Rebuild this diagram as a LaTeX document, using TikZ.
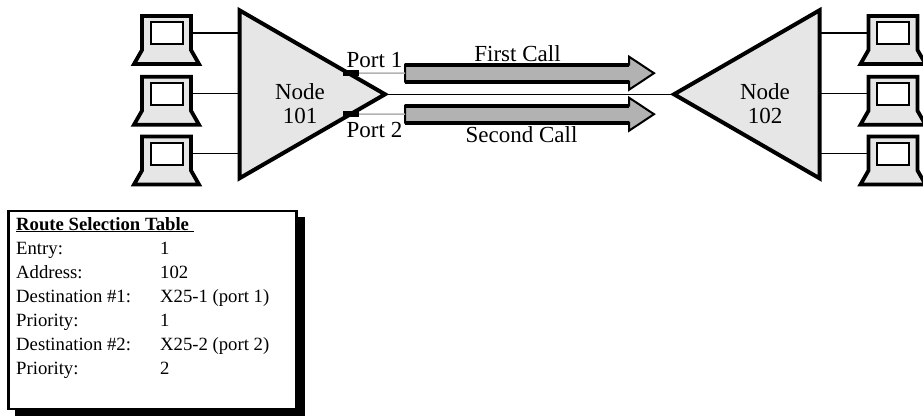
\documentclass[tikz,border=0pt]{standalone}
\usepackage{fontspec}
\setmainfont{Liberation Serif}
\usetikzlibrary{shapes.geometric}
\usetikzlibrary{shapes.arrows}
\usetikzlibrary{positioning}
\definecolor{nodegrey}{HTML}{E6E6E6}
\definecolor{callgrey}{HTML}{B2B2B2}
\tikzset{
	lapbody/.style={inner sep=0pt, outer sep=0pt, minimum width=49pt, minimum height=34pt},
	lapcase/.style={draw=black, fill=nodegrey, line width=3.8pt, line join=miter},
	lapscreen/.style={draw=black, fill=white, line width=2pt, inner sep=0pt, outer sep=0pt, minimum width=32pt, minimum height=22pt},
	wire/.style={draw=black, line width=1.5pt},
	switch/.style={isosceles triangle, isosceles triangle stretches, draw=black, fill=nodegrey, line width=4pt, inner sep=0pt, outer sep=0pt, minimum width=168pt, minimum height=145.5pt},
	port/.style={fill=black, inner sep=0pt, outer sep=0pt, minimum width=16pt, minimum height=5.5pt},
	call/.style={single arrow, single arrow head extend=8pt, single arrow tip angle=67, draw=black, fill=callgrey, line width=2pt, inner sep=0pt, outer sep=0pt, text height=15pt, minimum height=249pt, anchor=tail},
	callside/.style={draw=black, line width=4pt},
	label/.style={inner sep=0pt, anchor=base, font=\fontsize{23}{24}\selectfont},
	cell/.style={inner sep=0pt, anchor=base west, font=\fontsize{18.7}{24}\selectfont}
}
\begin{document}
\begin{tikzpicture}[x=1pt, y=-1pt]
	\useasboundingbox (0,0) rectangle (923,415);
	% end switches
	\node[switch, anchor=apex] (n101) at (385,94.3) {};
	\node[switch, anchor=apex, shape border rotate=180] (n102) at (674,94.3) {};
	\node[label] (t101) at (300,99) {Node};
	\node[label] (t101b) at (300,123) {101};
	\node[label] (t102) at (765,99) {Node};
	\node[label] (t102b) at (765,123) {102};
	\draw[wire] (n101.apex) -- (n102.apex);
	% terminals on both sides
	\foreach \n/\y in {1/33,2/93.7,3/153.5}{
		\node[lapbody] (a\n) at (166.5,\y) {};
		\node[lapbody] (b\n) at (893,\y) {};
		\draw[lapcase] (a\n.north west) -- (a\n.north east) -- (a\n.south east) -- ++(8,14) -- ++(-65,0) -- (a\n.south west) -- cycle;
		\draw[lapcase] (b\n.north west) -- (b\n.north east) -- (b\n.south east) -- ++(8,14) -- ++(-65,0) -- (b\n.south west) -- cycle;
		\node[lapscreen] (as\n) at (a\n) {};
		\node[lapscreen] (bs\n) at (b\n) {};
		\draw[wire] (a\n.east) -- (a\n.east -| n101.lower side);
		\draw[wire] (b\n.west) -- (b\n.west -| n102.lower side);
	}
	% the two calls
	\node[call] (c1) at (405,73.2) {};
	\node[call] (c2) at (405,114.2) {};
	\draw[callside] (c1.before tail) -- (c1.after head);
	\draw[callside] (c1.after tail) -- (c1.before head);
	\draw[callside] (c2.before tail) -- (c2.after head);
	\draw[callside] (c2.after tail) -- (c2.before head);
	\node[port] (p1) at (351,73) {};
	\node[port] (p2) at (351,114) {};
	\draw[draw=callgrey, line width=1.5pt] (p1) -- (c1.tail);
	\draw[draw=callgrey, line width=1.5pt] (p2) -- (c2.tail);
	\node[label] (lp1) at (374.5,67) {Port 1};
	\node[label] (lp2) at (374.5,137) {Port 2};
	\node[label] (lc1) at (517.5,61) {First Call};
	\node[label] (lc2) at (521.5,142.7) {Second Call};
	% route table
	\fill[black] (15,217) rectangle (305,416);
	\node[draw=black, fill=white, line width=2.5pt, inner sep=0pt, minimum width=288pt, minimum height=198pt] (route) at (152.5,310) {};
	\node[cell] (head) at (16,230) {\bfseries\underline{Route Selection Table\ }};
	\foreach \n/\y/\a/\b in {1/254/Entry:/1, 2/278/Address:/102, 3/302/Destination \#1:/X25-1 (port 1), 4/326/Priority:/1, 5/350/Destination \#2:/X25-2 (port 2), 6/374/Priority:/2}{
		\node[cell] (k\n) at (16,\y) {\a};
		\node[cell] (v\n) at (160,\y) {\b};
	}
\end{tikzpicture}
\end{document}
